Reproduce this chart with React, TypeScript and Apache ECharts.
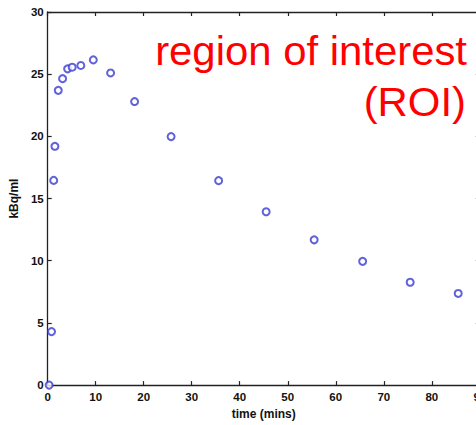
import React, { useEffect, useRef } from "react";
import * as echarts from "echarts";

// Sample times (minutes) and measured activity concentration (kBq/ml)
const times = [0.3, 0.8, 1.25, 1.5, 2.2, 3.1, 4.15, 5.1, 6.9, 9.5, 13.1, 18.1, 25.7, 35.6, 45.5, 55.5, 65.6, 75.5, 85.5];
const activity = [0, 4.3, 16.46, 19.2, 23.7, 24.64, 25.43, 25.56, 25.7, 26.15, 25.1, 22.8, 19.98, 16.44, 13.94, 11.68, 9.95, 8.27, 7.37];

const xTicks = [0, 90, 10];
const yTicks = [0, 30, 5];

const annotation = ["region of interest", "(ROI)"];

export default function App() {
  const ref = useRef<HTMLDivElement>(null);

  useEffect(() => {
    if (!ref.current) return;
    const chart = echarts.init(ref.current, null, { renderer: "svg" });
    const font = "'Liberation Sans', Arial, Helvetica, sans-serif";
    const axisLine = { show: true, onZero: false, lineStyle: { color: "#222", width: 1.3 } };
    const tick = { show: true, inside: true, length: 4, lineStyle: { color: "#222", width: 1.2 } };
    const label = { fontFamily: font, fontSize: 11.5, fontWeight: "bold" as const, color: "#111" };
    const nameStyle = { fontFamily: font, fontSize: 12, fontWeight: "bold" as const, color: "#111" };
    const fontSize = 40;
    // shift from the text's centre line to its alphabetic baseline
    const baselineShift = fontSize * 0.3465;

    chart.setOption({
      animation: false,
      backgroundColor: "#ffffff",
      grid: { left: 46, top: 12, width: 433.8, height: 376 },
      xAxis: [
        {
          type: "value",
          position: "bottom",
          min: xTicks[0],
          max: xTicks[1],
          interval: xTicks[2],
          axisLine,
          axisTick: tick,
          splitLine: { show: false },
          axisLabel: { ...label, margin: 6 },
          name: "time (mins)",
          nameLocation: "middle",
          nameGap: 18,
          nameTextStyle: nameStyle,
        },
        {
          type: "value",
          position: "top",
          min: xTicks[0],
          max: xTicks[1],
          interval: xTicks[2],
          axisLine,
          axisTick: tick,
          splitLine: { show: false },
          axisLabel: { show: false },
        },
      ],
      yAxis: [
        {
          type: "value",
          position: "left",
          min: yTicks[0],
          max: yTicks[1],
          interval: yTicks[2],
          axisLine,
          axisTick: tick,
          splitLine: { show: false },
          axisLabel: { ...label, margin: 4 },
          name: "kBq/ml",
          nameLocation: "middle",
          nameGap: 22,
          nameTextStyle: nameStyle,
        },
        {
          type: "value",
          position: "right",
          min: yTicks[0],
          max: yTicks[1],
          interval: yTicks[2],
          axisLine,
          axisTick: tick,
          splitLine: { show: false },
          axisLabel: { show: false },
        },
      ],
      series: [
        {
          type: "scatter",
          data: times.map((t, i) => [t, activity[i]]),
          symbol: "emptyCircle",
          symbolSize: 7,
          itemStyle: { color: "#3a3ad0", borderColor: "#3a3ad0", borderWidth: 1.6 },
        },
      ],
      graphic: [
        {
          type: "text",
          x: 467,
          y: 65 - baselineShift,
          scaleX: 1.047,
          style: {
            text: annotation[0],
            fontFamily: font,
            fontSize,
            fill: "#ff0000",
            align: "right",
            verticalAlign: "middle",
          },
        },
        {
          type: "text",
          x: 466,
          y: 116 - baselineShift,
          scaleX: 1.047,
          style: {
            text: annotation[1],
            fontFamily: font,
            fontSize,
            fill: "#ff0000",
            align: "right",
            verticalAlign: "middle",
          },
        },
      ],
    });
    return () => chart.dispose();
  }, []);

  return (
    <div style={{ position: "fixed", left: 0, top: 0, width: 476, height: 425, overflow: "hidden", background: "#fff" }}>
      <div ref={ref} style={{ width: 500, height: 425 }} />
    </div>
  );
}
